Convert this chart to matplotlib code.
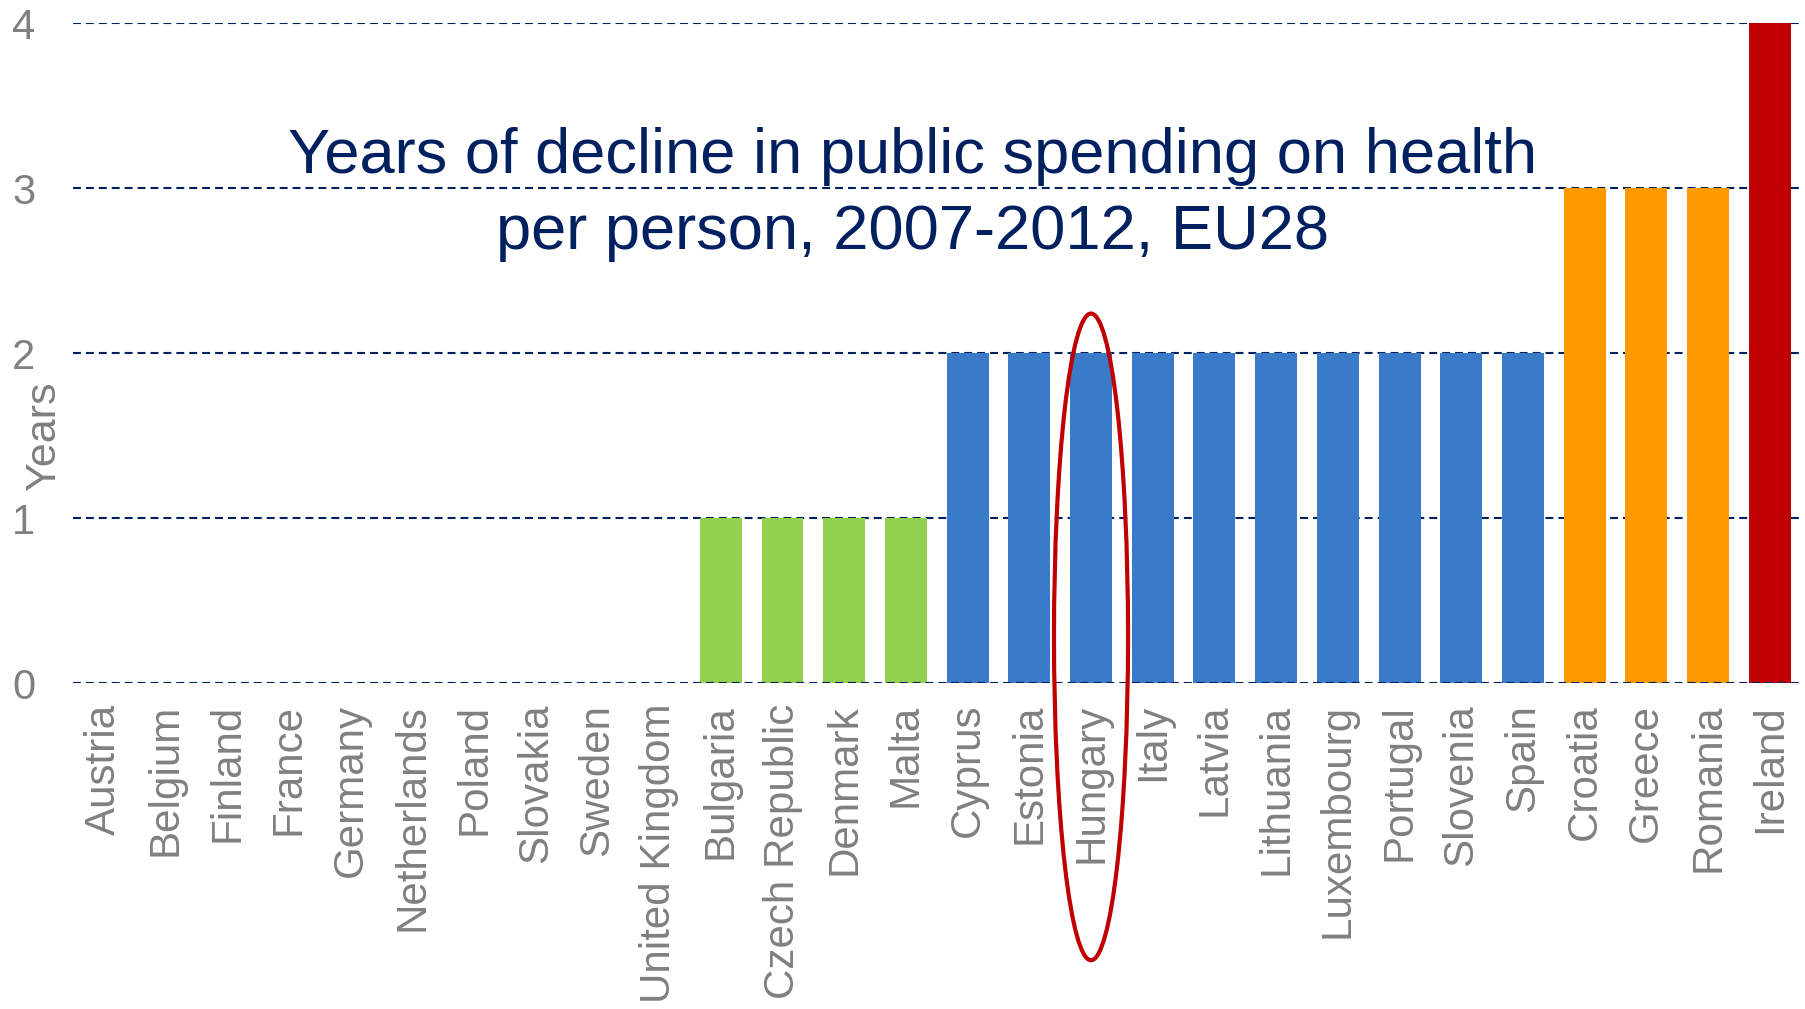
import matplotlib.pyplot as plt
from matplotlib.patches import Ellipse

countries = ['Austria', 'Belgium', 'Finland', 'France', 'Germany', 'Netherlands',
             'Poland', 'Slovakia', 'Sweden', 'United Kingdom',
             'Bulgaria', 'Czech Republic', 'Denmark', 'Malta',
             'Cyprus', 'Estonia', 'Hungary', 'Italy', 'Latvia', 'Lithuania',
             'Luxembourg', 'Portugal', 'Slovenia', 'Spain',
             'Croatia', 'Greece', 'Romania', 'Ireland']
years = [0, 0, 0, 0, 0, 0, 0, 0, 0, 0,
         1, 1, 1, 1,
         2, 2, 2, 2, 2, 2, 2, 2, 2, 2,
         3, 3, 3,
         4]
highlight = 'Hungary'

# colour per number of years of decline
year_colors = {1: '#92D050', 2: '#3A7BC9', 3: '#FF9900', 4: '#C00000'}

navy = '#002060'
grey = '#808080'

plt.rcParams['font.family'] = ['Liberation Sans', 'DejaVu Sans']

fig = plt.figure(figsize=(18.06, 10.09), dpi=100)
ax = fig.add_axes([0.0404, 0.323, 0.9566, 0.654])

x = list(range(len(countries)))
colors = [year_colors.get(v, 'white') for v in years]
ax.bar(x, years, width=0.68, color=colors, zorder=2)

# dashed grid lines; the zero line sits on top of the bars
dash = (0, (3.8, 2.4))
for yv in [1, 2, 3, 4]:
    ax.axhline(yv, color=navy, lw=1.5, ls=dash, zorder=1)
ax.axhline(0, color=navy, lw=1.5, ls=dash, zorder=3)

ax.set_xlim(-0.5, len(countries) - 0.5)
ax.set_ylim(0, 4)
ax.set_yticks([0, 1, 2, 3, 4])
ax.set_xticks(x)
ax.set_xticklabels(countries, rotation=90, fontsize=30.3, color=grey)
ax.tick_params(axis='x', length=0, pad=15)
ax.tick_params(axis='y', length=0, pad=27, labelsize=30, labelcolor=grey)
for s in ax.spines.values():
    s.set_visible(False)

ax.set_ylabel('Years', fontsize=31, color=grey)
ax.yaxis.set_label_coords(-0.005, 0.375)

# ring around the highlighted country
hi = countries.index(highlight)
ax.add_patch(Ellipse((hi, 0.28), width=1.2, height=3.92, fill=False,
                     edgecolor='#C00000', lw=3, clip_on=False, zorder=4))

fig.text(0.5055, 0.807, 'Years of decline in public spending on health\nper person, 2007-2012, EU28',
         ha='center', va='center', fontsize=45.5, color=navy, linespacing=1.38)

fig.savefig('out.png', dpi=100, facecolor='white')
